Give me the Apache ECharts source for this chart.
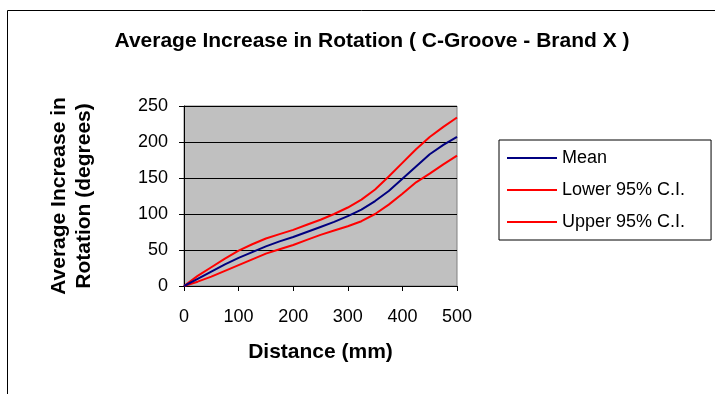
<!DOCTYPE html>
<html>
<head>
<meta charset="utf-8">
<script src="https://cdn.jsdelivr.net/npm/echarts@6/dist/echarts.min.js"></script>
<style>
    html, body {margin: 0; padding: 0; background: #fff;}
    #main {width: 715px; height: 394px;}
</style>
</head>
<body>
<div id="main"></div>
<script>
// distance along the groove (mm)
var distance = [0, 25, 50, 75, 100, 125, 150, 175, 200, 225, 250, 275, 300, 325, 350, 375, 400, 425, 450, 475, 500];
// average increase in rotation (degrees)
var mean = [0, 10, 20, 30, 39, 47, 55, 62, 68, 75, 82, 89, 97, 106, 118, 132, 149, 166, 183, 196, 207];
var lower = [0, 6, 13, 21, 29, 37, 45, 51, 57, 64, 71, 77, 83, 90, 100, 113, 128, 144, 156, 169, 181];
var upper = [0, 14, 26, 38, 49, 58, 66, 72, 78, 85, 92, 100, 109, 120, 134, 152, 171, 190, 207, 221, 234];
var seriesNames = ['Mean', 'Lower 95% C.I.', 'Upper 95% C.I.'];
var yTicks = [0, 50, 100, 150, 200, 250];
var xTicks = [0, 100, 200, 300, 400, 500];

var option = {};
var myChart;

function pairs(values) {
    var out = [];
    for (var i = 0; i < distance.length; i++) {
        out.push([distance[i], values[i]]);
    }
    return out;
}

function init() {
    var font = 'Liberation Sans, Arial, sans-serif';
    var lineSeries = [];
    var colors = ['#000080', '#ff0000', '#ff0000'];
    var values = [mean, lower, upper];
    for (var i = 0; i < seriesNames.length; i++) {
        lineSeries.push({
            name: seriesNames[i],
            type: 'line',
            data: pairs(values[i]),
            symbol: 'none',
            smooth: false,
            color: colors[i],
            lineStyle: {width: 2, color: colors[i]},
            z: 3 - i
        });
    }

    option = {
        animation: false,
        backgroundColor: '#ffffff',
        textStyle: {fontFamily: font},
        title: {
            text: 'Average Increase in Rotation ( C-Groove - Brand X )',
            left: 367,
            top: 26,
            textAlign: 'center',
            textStyle: {fontFamily: font, fontSize: 21, fontWeight: 'bold', color: '#000'}
        },
        graphic: [{
            // outer chart frame
            type: 'rect',
            shape: {x: 7.5, y: 10.5, width: 730, height: 400},
            style: {fill: null, stroke: '#000', lineWidth: 1},
            silent: true
        }],
        grid: {
            left: 184,
            top: 106,
            right: 258,
            bottom: 108,
            show: true,
            backgroundColor: '#c0c0c0',
            borderColor: '#808080',
            borderWidth: 1
        },
        legend: {
            orient: 'vertical',
            left: 499,
            top: 140,
            data: seriesNames,
            icon: 'rect',
            itemWidth: 50,
            itemHeight: 2,
            itemGap: 14,
            padding: [9, 26, 9, 8],
            borderColor: '#000',
            borderWidth: 1,
            backgroundColor: '#fff',
            textStyle: {fontFamily: font, fontSize: 18, color: '#000'}
        },
        xAxis: {
            type: 'value',
            min: xTicks[0],
            max: xTicks[xTicks.length - 1],
            interval: 100,
            name: 'Distance (mm)',
            nameLocation: 'middle',
            nameGap: 56,
            nameTextStyle: {fontFamily: font, fontSize: 21, fontWeight: 'bold', color: '#000'},
            axisLine: {show: true, onZero: false, lineStyle: {color: '#000', width: 1}},
            axisTick: {show: true, inside: false, length: 5, lineStyle: {color: '#000'}},
            axisLabel: {margin: 22, fontFamily: font, fontSize: 18, color: '#000'},
            splitLine: {show: false}
        },
        yAxis: {
            type: 'value',
            min: yTicks[0],
            max: yTicks[yTicks.length - 1],
            interval: 50,
            name: 'Average Increase in\nRotation (degrees)',
            nameLocation: 'middle',
            nameGap: 87,
            nameTextStyle: {fontFamily: font, fontSize: 21, fontWeight: 'bold', color: '#000', lineHeight: 25},
            axisLine: {show: true, onZero: false, lineStyle: {color: '#000', width: 1}},
            axisTick: {show: true, inside: false, length: 5, lineStyle: {color: '#000'}},
            axisLabel: {margin: 16, fontFamily: font, fontSize: 18, color: '#000'},
            splitLine: {show: true, lineStyle: {color: '#000', width: 1}}
        },
        series: lineSeries
    };
}

function start() {
    myChart = echarts.init(document.getElementById('main'), null, {renderer: 'canvas'});
    init();
    myChart.setOption(option);
}

start();
</script>
</body>
</html>
